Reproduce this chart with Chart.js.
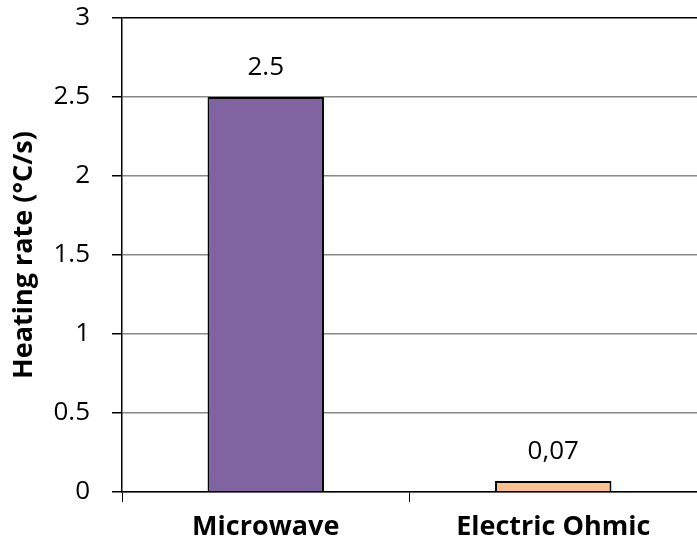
<!DOCTYPE html>
<html>
<head>
<meta charset="utf-8">
<script src="https://cdn.jsdelivr.net/npm/chart.js@4/dist/chart.umd.min.js"></script>
<style>
  html, body { margin: 0; padding: 0; background: #fff; }
  #wrap { width: 697px; height: 548px; }
</style>
</head>
<body>
<div id="wrap"><canvas id="grafico" width="697" height="548"></canvas></div>
<script>
// dados do gráfico
const categorias = ['Microwave', 'Electric Ohmic'];
const valores = [2.5, 0.07];
const rotulos = ['2.5', '0,07'];
const cores = ['#8064A2', '#FAC090'];
const tituloEixoY = 'Heating rate (°C/s)';

const fonte = "'Open Sans', 'DejaVu Sans', sans-serif";

// plugin simples para escrever o valor em cima de cada barra
const rotuloBarras = {
  id: 'rotuloBarras',
  afterDatasetsDraw(chart) {
    const ctx = chart.ctx;
    const meta = chart.getDatasetMeta(0);
    ctx.save();
    ctx.font = '26px ' + fonte;
    ctx.fillStyle = '#000';
    ctx.textAlign = 'center';
    ctx.textBaseline = 'middle';
    meta.data.forEach(function(bar, i) {
      ctx.fillText(rotulos[i], bar.x, bar.y - 29);
    });
    ctx.restore();
  }
};

const ctx = document.getElementById('grafico').getContext('2d');
const grafico = new Chart(ctx, {
  type: 'bar',
  data: {
    labels: categorias,
    datasets: [{
      data: valores,
      backgroundColor: cores,
      borderColor: '#000',
      borderWidth: 2,
      barPercentage: 0.405,
      categoryPercentage: 1
    }]
  },
  options: {
    responsive: false,
    animation: false,
    layout: { padding: { top: 0, right: -5, left: 0, bottom: 0 } },
    plugins: { legend: { display: false }, tooltip: { enabled: false } },
    scales: {
      x: {
        offset: true,
        grid: {
          offset: true,
          drawOnChartArea: false,
          drawTicks: true,
          tickLength: 10,
          color: '#000'
        },
        border: { color: '#000', width: 1.5 },
        ticks: {
          color: '#000',
          padding: 9,
          font: { family: fonte, size: 27, weight: 'bold' }
        },
        afterFit(scale) { scale.height = 56; }
      },
      y: {
        min: 0,
        max: 3,
        ticks: {
          stepSize: 0.5,
          color: '#000',
          padding: 22,
          font: { family: fonte, size: 26 },
          callback: function(v) { return String(v); }
        },
        grid: {
          color: function(c) { return c.tick && c.tick.value === 3 ? '#000' : '#888888'; },
          tickColor: '#000',
          tickLength: 10,
          lineWidth: 1.5
        },
        border: { color: '#000', width: 1.5 },
        title: {
          display: true,
          text: tituloEixoY,
          color: '#000',
          padding: { top: 8, bottom: 0 },
          font: { family: fonte, size: 27, weight: 'bold' }
        },
        afterFit(scale) {
          scale.width = 122;
          scale.paddingTop = 18;
        }
      }
    }
  },
  plugins: [rotuloBarras]
});
</script>
</body>
</html>
